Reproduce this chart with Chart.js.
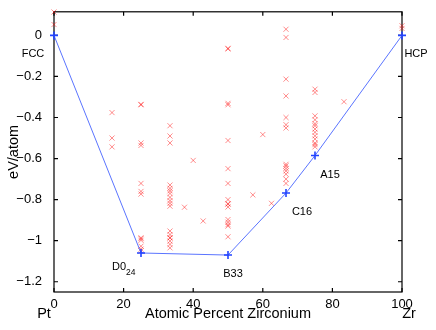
<!DOCTYPE html>
<html>
<head>
<meta charset="utf-8">
<script src="https://cdn.jsdelivr.net/npm/chart.js@4.4.0/dist/chart.umd.min.js"></script>
<style>
html, body { margin: 0; padding: 0; background: #fff; }
</style>
</head>
<body>
<canvas id="chartView" width="436" height="330"></canvas>
<script>
var xTicks = [0, 20, 40, 60, 80, 100];
var yTicks = [-1.2, -1, -0.8, -0.6, -0.4, -0.2, 0];

// compositions (at.% Zr) and the formation energies found at each one
var comps = [0, 16.67, 25, 33.33, 37.5, 40, 42.86, 50, 57.14, 60, 62.5, 66.67, 75, 83.33, 100];
var energies = [
	[0.114, 0.053],
	[-0.376, -0.50, -0.543],
	[-0.336, -0.338, -0.524, -0.536, -0.721, -0.76, -0.773, -0.986, -0.99, -0.998, -1.027, -1.041, -1.05],
	[-0.44, -0.49, -0.524, -0.729, -0.745, -0.757, -0.77, -0.789, -0.805, -0.818, -0.832, -0.953, -0.97, -0.985, -0.987, -1.002, -1.018, -1.035],
	[-0.837],
	[-0.609],
	[-0.904],
	[-0.063, -0.066, -0.331, -0.338, -0.512, -0.649, -0.721, -0.80, -0.82, -0.822, -0.836, -0.897, -0.91, -0.922, -0.929, -0.981],
	[-0.777],
	[-0.483],
	[-0.818],
	[0.03, -0.01, -0.213, -0.295, -0.40, -0.435, -0.451, -0.628, -0.636, -0.648, -0.66, -0.676, -0.70, -0.721],
	[-0.262, -0.278, -0.392, -0.411, -0.43, -0.44, -0.456, -0.472, -0.489, -0.505, -0.524, -0.532, -0.543],
	[-0.323],
	[0.047, 0.034]
];

// convex hull (ground states)
var hullX = [0, 25, 50, 66.67, 75, 100];
var hullY = [0, -1.06, -1.07, -0.768, -0.585, 0];
var hullNames = ['FCC', 'D0_24', 'B33', 'C16', 'A15', 'HCP'];

var endNames = ['Pt', 'Zr'];

var FONT = '"Liberation Sans", Arial, Helvetica, sans-serif';

function structData() {
	var data = [];
	comps.map((c, i) => {
		energies[i].map(e => {
			data.push({ x: c, y: e });
		});
	});
	return data;
}

function hullData() {
	return hullX.map((x, i) => {
		return { x: x, y: hullY[i] };
	});
}

function minusSign(v) {
	return String(v).replace('-', '\u2212');
}

// pixel offsets of the phase names from their hull point
var labelOffset = {
	'FCC': [-21, 19],
	'HCP': [14, 19],
	'B33': [5, 19],
	'C16': [16, 19],
	'A15': [15, 19]
};

var boxPlugin = {
	id: 'box',
	beforeDatasetsDraw(chart) {
		var a = chart.chartArea;
		var ctx = chart.ctx;
		var sx = chart.scales.x;
		var sy = chart.scales.y;
		var tl = 4;
		ctx.save();
		ctx.strokeStyle = '#000';
		ctx.lineWidth = 1.2;
		ctx.strokeRect(a.left, a.top, a.right - a.left, a.bottom - a.top);
		ctx.beginPath();
		xTicks.map(v => {
			var p = sx.getPixelForValue(v);
			ctx.moveTo(p, a.bottom); ctx.lineTo(p, a.bottom - tl);
			ctx.moveTo(p, a.top); ctx.lineTo(p, a.top + tl);
		});
		yTicks.map(v => {
			var p = sy.getPixelForValue(v);
			ctx.moveTo(a.left, p); ctx.lineTo(a.left + tl, p);
			ctx.moveTo(a.right, p); ctx.lineTo(a.right - tl, p);
		});
		ctx.stroke();
		ctx.restore();
	},
	afterDraw(chart) {
		var a = chart.chartArea;
		var ctx = chart.ctx;
		var sx = chart.scales.x;
		var sy = chart.scales.y;
		ctx.save();
		ctx.fillStyle = '#000';
		ctx.textBaseline = 'middle';

		// x tick labels
		ctx.font = '13px ' + FONT;
		ctx.textAlign = 'center';
		xTicks.map(v => {
			ctx.fillText(minusSign(v), sx.getPixelForValue(v), a.bottom + 12.5);
		});

		ctx.font = '11px ' + FONT;
		hullNames.map((name, i) => {
			var px = sx.getPixelForValue(hullX[i]);
			var py = sy.getPixelForValue(hullY[i]);
			if (name === 'D0_24') {
				ctx.textAlign = 'left';
				ctx.font = '11px ' + FONT;
				ctx.fillText('D0', px - 29, py + 13.5);
				var w = ctx.measureText('D0').width;
				ctx.font = '8.5px ' + FONT;
				ctx.fillText('24', px - 29 + w, py + 20);
				ctx.font = '11px ' + FONT;
				return;
			}
			var off = labelOffset[name];
			ctx.textAlign = 'center';
			ctx.fillText(name, px + off[0], py + off[1]);
		});
		// element names under the ends of the axis
		ctx.font = '14.5px ' + FONT;
		ctx.textAlign = 'center';
		var yy = 314;
		ctx.fillText(endNames[0], sx.getPixelForValue(0) - 10, yy);
		ctx.fillText(endNames[1], sx.getPixelForValue(100) + 7, yy);
		ctx.restore();
	}
};

var ctx = document.getElementById('chartView').getContext('2d');
var chart = new Chart(ctx, {
	type: 'scatter',
	data: {
		datasets: [
			{
				label: 'hull',
				data: hullData(),
				showLine: true,
				borderColor: '#5a74ff',
				borderWidth: 1,
				pointStyle: 'cross',
				pointRadius: 4,
				pointBorderColor: '#2244ff',
				pointBorderWidth: 1.6,
				tension: 0,
				clip: false
			},
			{
				label: 'structures',
				data: structData(),
				showLine: false,
				pointStyle: 'crossRot',
				pointRadius: 3.6,
				pointBorderColor: 'rgba(255,0,0,0.45)',
				pointBorderWidth: 1,
				clip: false
			}
		]
	},
	plugins: [boxPlugin],
	options: {
		responsive: false,
		animation: false,
		events: [],
		layout: {
			padding: { left: 0, right: 34, top: 9, bottom: 0 }
		},
		plugins: {
			legend: { display: false },
			tooltip: { enabled: false }
		},
		scales: {
			x: {
				type: 'linear',
				min: 0,
				max: 100,
				afterBuildTicks: s => { s.ticks = xTicks.map(v => ({ value: v })); },
				afterFit: s => { s.height = 38; },
				grid: { display: false },
				border: { display: false },
				ticks: { display: false },
				title: {
					display: true,
					text: 'Atomic Percent Zirconium',
					color: '#000',
					font: { family: FONT, size: 14.5 },
					padding: { top: 0, bottom: 7.5 }
				}
			},
			y: {
				type: 'linear',
				min: -1.25,
				max: 0.115,
				afterBuildTicks: s => { s.ticks = yTicks.map(v => ({ value: v })); },
				afterFit: s => { s.width = 54; },
				grid: { display: false },
				border: { display: false },
				ticks: {
					color: '#000',
					font: { family: FONT, size: 13 },
					padding: 4,
					callback: v => minusSign(v)
				},
				title: {
					display: true,
					text: 'eV/atom',
					color: '#000',
					font: { family: FONT, size: 14.5 },
					padding: { top: 5, bottom: 0 }
				}
			}
		}
	}
});
</script>
</body>
</html>
